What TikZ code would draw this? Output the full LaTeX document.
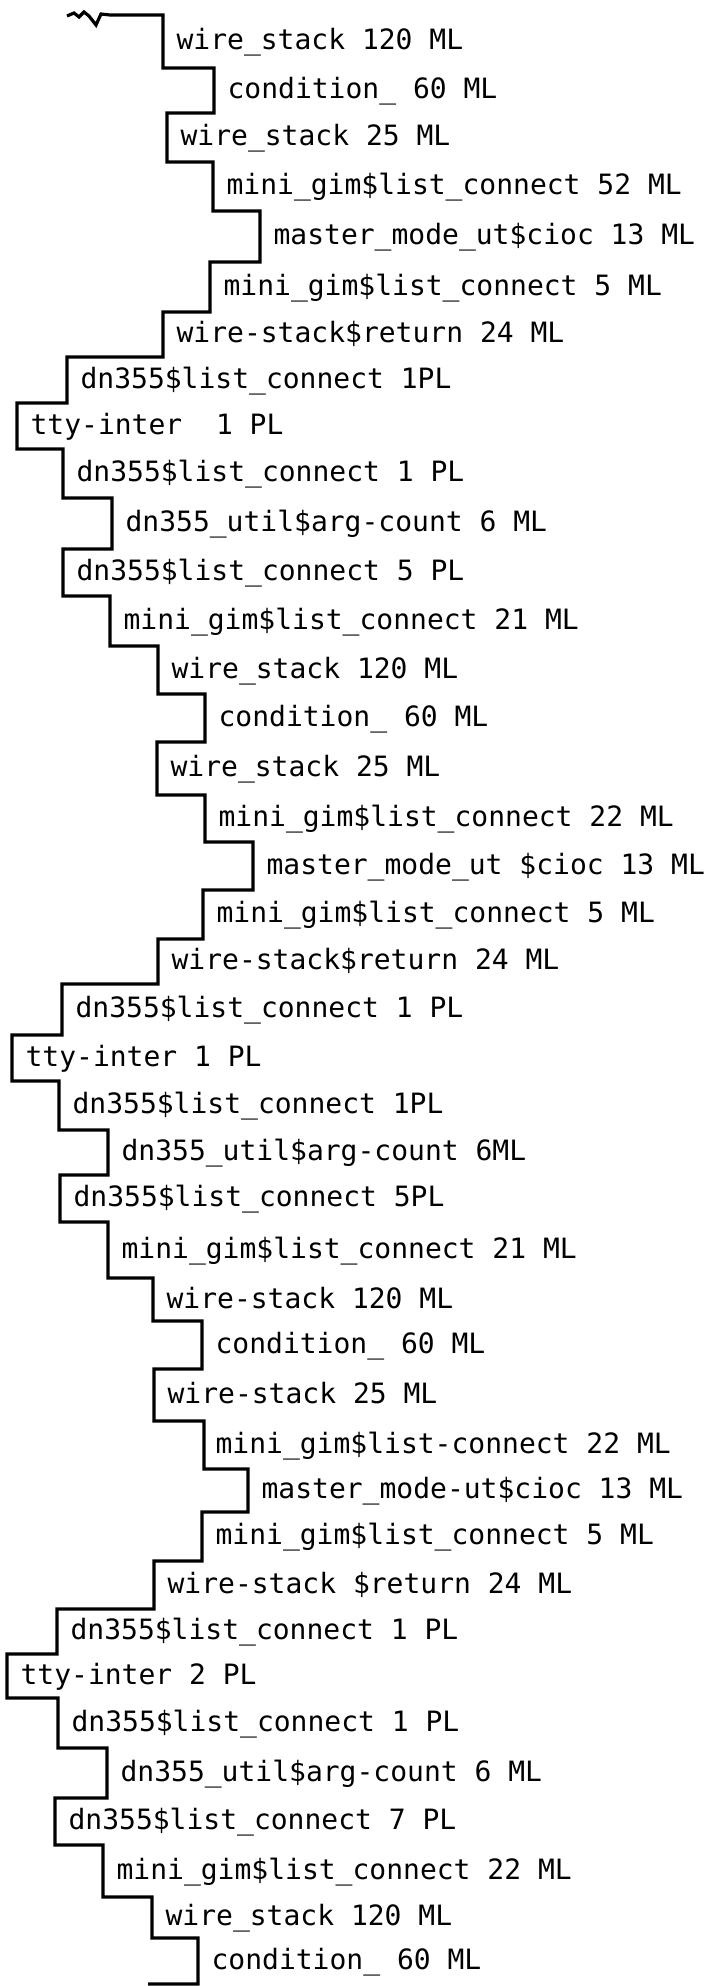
\documentclass[tikz,border=0pt]{standalone}
\usepackage{fontspec}
\setmonofont{DejaVu Sans Mono}
\begin{document}
\begin{tikzpicture}[x=1pt, y=-1pt, line width=3.2pt,
  lbl/.style={anchor=base west, inner sep=0pt, font=\ttfamily\fontsize{28}{28}\selectfont},
  stair/.style={line width=3.2pt, line join=miter}]
  \useasboundingbox (0,0) rectangle (714,1986);
  % call depth as a staircase: each row is (left x, bottom y) of its bracket
  \draw[stair] (67,16) -- (74,13) -- (79,17) -- (84,12) -- (89,16) -- (96,25) -- (101,14) -- (110,15) -- (163,15)
    |- (214,68) |- (167,113) |- (213,162) |- (260,211) |- (210,262) |- (163,312)
    |- (67,357) |- (17,403) |- (63,449) |- (112,498) |- (63,549) |- (110,596)
    |- (158,646) |- (205,694) |- (157,742) |- (205,795) |- (253,842) |- (203,890) |- (158,939)
    |- (62,984) |- (12,1035) |- (59,1081) |- (108,1130) |- (60,1175) |- (108,1222)
    |- (153,1278) |- (202,1321) |- (154,1369) |- (204,1421) |- (248,1469) |- (202,1512) |- (154,1561)
    |- (57,1609) |- (7,1654) |- (58,1698) |- (107,1748) |- (55,1798) |- (103,1845)
    |- (152,1897) |- (198,1938) |- (148,1984);
  % first pass
  \node[lbl] (r1) at (175,49) {wire\_stack 120 ML};
  \node[lbl] (r2) at (226,98) {condition\_ 60 ML};
  \node[lbl] (r3) at (179,145) {wire\_stack 25 ML};
  \node[lbl] (r4) at (225,194) {mini\_gim\$list\_connect 52 ML};
  \node[lbl] (r5) at (272,244) {master\_mode\_ut\$cioc 13 ML};
  \node[lbl] (r6) at (222,295) {mini\_gim\$list\_connect 5 ML};
  \node[lbl] (r7) at (175,342) {wire-stack\$return 24 ML};
  \node[lbl] (r8) at (79,388) {dn355\$list\_connect 1PL};
  \node[lbl] (r9) at (29,434) {tty-inter~~1 PL};
  \node[lbl] (r10) at (75,481) {dn355\$list\_connect 1 PL};
  \node[lbl] (r11) at (124,531) {dn355\_util\$arg-count 6 ML};
  \node[lbl] (r12) at (75,580) {dn355\$list\_connect 5 PL};
  % second pass
  \node[lbl] (r13) at (122,629) {mini\_gim\$list\_connect 21 ML};
  \node[lbl] (r14) at (170,678) {wire\_stack 120 ML};
  \node[lbl] (r15) at (217,726) {condition\_ 60 ML};
  \node[lbl] (r16) at (169,776) {wire\_stack 25 ML};
  \node[lbl] (r17) at (217,826) {mini\_gim\$list\_connect 22 ML};
  \node[lbl] (r18) at (265,874) {master\_mode\_ut \$cioc 13 ML};
  \node[lbl] (r19) at (215,922) {mini\_gim\$list\_connect 5 ML};
  \node[lbl] (r20) at (170,969) {wire-stack\$return 24 ML};
  \node[lbl] (r21) at (74,1017) {dn355\$list\_connect 1 PL};
  \node[lbl] (r22) at (24,1066) {tty-inter 1 PL};
  \node[lbl] (r23) at (71,1113) {dn355\$list\_connect 1PL};
  \node[lbl] (r24) at (120,1160) {dn355\_util\$arg-count 6ML};
  \node[lbl] (r25) at (72,1206) {dn355\$list\_connect 5PL};
  % third pass
  \node[lbl] (r26) at (120,1258) {mini\_gim\$list\_connect 21 ML};
  \node[lbl] (r27) at (165,1308) {wire-stack 120 ML};
  \node[lbl] (r28) at (214,1353) {condition\_ 60 ML};
  \node[lbl] (r29) at (166,1403) {wire-stack 25 ML};
  \node[lbl] (r30) at (214,1453) {mini\_gim\$list-connect 22 ML};
  \node[lbl] (r31) at (260,1498) {master\_mode-ut\$cioc 13 ML};
  \node[lbl] (r32) at (214,1544) {mini\_gim\$list\_connect 5 ML};
  \node[lbl] (r33) at (166,1593) {wire-stack \$return 24 ML};
  \node[lbl] (r34) at (69,1639) {dn355\$list\_connect 1 PL};
  \node[lbl] (r35) at (19,1684) {tty-inter 2 PL};
  \node[lbl] (r36) at (70,1731) {dn355\$list\_connect 1 PL};
  \node[lbl] (r37) at (119,1781) {dn355\_util\$arg-count 6 ML};
  \node[lbl] (r38) at (67,1829) {dn355\$list\_connect 7 PL};
  \node[lbl] (r39) at (115,1879) {mini\_gim\$list\_connect 22 ML};
  \node[lbl] (r40) at (164,1925) {wire\_stack 120 ML};
  \node[lbl] (r41) at (210,1969) {condition\_ 60 ML};
\end{tikzpicture}
\end{document}
